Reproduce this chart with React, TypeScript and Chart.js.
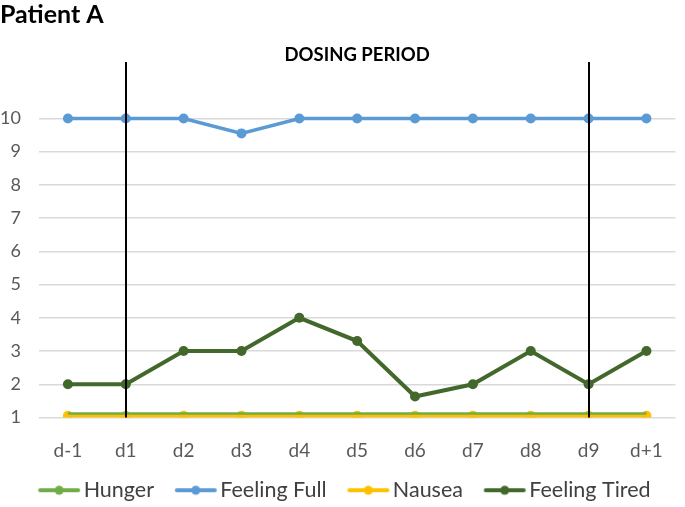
import React, { useEffect, useRef } from 'react';
import { Chart, registerables } from 'chart.js';

Chart.register(...registerables);

const days = ['d-1', 'd1', 'd2', 'd3', 'd4', 'd5', 'd6', 'd7', 'd8', 'd9', 'd+1'];
const hunger = [1.12, 1.12, 1.12, 1.12, 1.12, 1.12, 1.12, 1.12, 1.12, 1.12, 1.12];
const feelingFull = [10, 10, 10, 9.55, 10, 10, 10, 10, 10, 10, 10];
const nausea = [1.05, 1.05, 1.05, 1.05, 1.05, 1.05, 1.05, 1.05, 1.05, 1.05, 1.05];
const feelingTired = [2, 2, 3, 3, 4, 3.3, 1.63, 2, 3, 2, 3];
const yTickMax = 10;
const dosingStart = 'd1';
const dosingEnd = 'd9';
const dosingLabel = 'DOSING PERIOD';
const dosingLineTop = 11.7;
const dosingLabelY = 11.9;

const FONT = 'Lato, "Open Sans", sans-serif';

// legend symbol: transparent canvas with a line + dot placed so that
// it sits right before the label text
const SYM_W = 60;
const SYM_OFF = 17;
function legendSymbol(color: string): HTMLCanvasElement {
  const c = document.createElement('canvas');
  c.width = SYM_W;
  c.height = 12;
  const g = c.getContext('2d')!;
  g.strokeStyle = color;
  g.lineWidth = 4;
  g.lineCap = 'round';
  g.beginPath();
  g.moveTo(SYM_OFF + 2, 6);
  g.lineTo(SYM_OFF + 40, 6);
  g.stroke();
  g.fillStyle = color;
  g.beginPath();
  g.arc(SYM_OFF + 21, 6, 4.5, 0, Math.PI * 2);
  g.fill();
  return c;
}

const dosingPlugin = {
  id: 'dosing',
  afterDatasetsDraw(chart: any) {
    const { ctx, scales } = chart;
    const x = scales.x;
    const y = scales.y;
    const i1 = days.indexOf(dosingStart);
    const i2 = days.indexOf(dosingEnd);
    const x1 = x.getPixelForValue(i1);
    const x2 = x.getPixelForValue(i2);
    const yTop = y.getPixelForValue(dosingLineTop);
    const yBot = y.getPixelForValue(1);
    ctx.save();
    ctx.strokeStyle = '#000000';
    ctx.lineWidth = 2;
    [x1, x2].forEach((px) => {
      ctx.beginPath();
      ctx.moveTo(Math.round(px), yTop);
      ctx.lineTo(Math.round(px), yBot);
      ctx.stroke();
    });
    ctx.fillStyle = '#000000';
    ctx.font = 'bold 18.5px ' + FONT;
    ctx.textAlign = 'center';
    ctx.textBaseline = 'middle';
    ctx.fillText(dosingLabel, (x1 + x2) / 2, y.getPixelForValue(dosingLabelY));
    ctx.restore();
  },
};

export default function App() {
  const ref = useRef<HTMLCanvasElement>(null);
  useEffect(() => {
    if (!ref.current) return;
    const colors = ['#70AD47', '#5B9BD5', '#FFC000', '#43682B'];
    const chart = new Chart(ref.current, {
      type: 'line',
      data: {
        labels: days,
        datasets: [
          { label: 'Hunger', data: hunger, borderColor: colors[0], backgroundColor: colors[0], borderWidth: 2.5, pointRadius: 0 },
          { label: 'Feeling Full', data: feelingFull, borderColor: colors[1], backgroundColor: colors[1], borderWidth: 3.5, pointRadius: 5, pointBorderWidth: 0 },
          { label: 'Nausea', data: nausea, borderColor: colors[2], backgroundColor: colors[2], borderWidth: 4, pointRadius: 5, pointBorderWidth: 0 },
          { label: 'Feeling Tired', data: feelingTired, borderColor: colors[3], backgroundColor: colors[3], borderWidth: 4, pointRadius: 5, pointBorderWidth: 0 },
        ],
      },
      options: {
        animation: false,
        responsive: true,
        maintainAspectRatio: false,
        devicePixelRatio: 1,
        layout: { padding: { left: 0, right: 5, top: 0, bottom: -4 } },
        plugins: {
          title: {
            display: true,
            text: 'Patient A',
            align: 'start',
            color: '#000000',
            font: { family: FONT, size: 25, weight: 'bold' },
            padding: { top: 0, bottom: 22 },
          },
          legend: {
            position: 'bottom',
            labels: {
              usePointStyle: true,
              pointStyleWidth: 43.5,
              color: '#404040',
              font: { family: FONT, size: 21.5 },
              padding: 12,
              generateLabels(chart: any) {
                const items = Chart.defaults.plugins.legend.labels.generateLabels(chart);
                return items.map((it: any, i: number) => ({ ...it, pointStyle: legendSymbol(colors[i]) }));
              },
            },
          },
          tooltip: { enabled: false },
        },
        scales: {
          x: {
            offset: true,
            afterFit: (scale: any) => { scale.height = 50; },
            grid: { display: false, drawTicks: false },
            border: { display: false },
            ticks: { color: '#595959', font: { family: FONT, size: 19 }, padding: 22 },
          },
          y: {
            min: 1,
            max: 12,
            border: { display: false },
            afterFit: (scale: any) => { scale.width = 39; },
            grid: {
              color: (c: any) => (c.tick && c.tick.value > yTickMax ? 'rgba(0,0,0,0)' : '#D9D9D9'),
              lineWidth: 1.5,
              drawTicks: false,
            },
            ticks: {
              stepSize: 1,
              color: '#595959',
              font: { family: FONT, size: 18 },
              padding: 18,
              callback: (v: any) => (v > yTickMax ? '' : String(v)),
            },
          },
        },
      },
      plugins: [dosingPlugin],
    });
    return () => chart.destroy();
  }, []);
  return (
    <div style={{ position: 'fixed', left: 0, top: 0, width: 685, height: 507, background: '#ffffff' }}>
      <canvas ref={ref} />
    </div>
  );
}
